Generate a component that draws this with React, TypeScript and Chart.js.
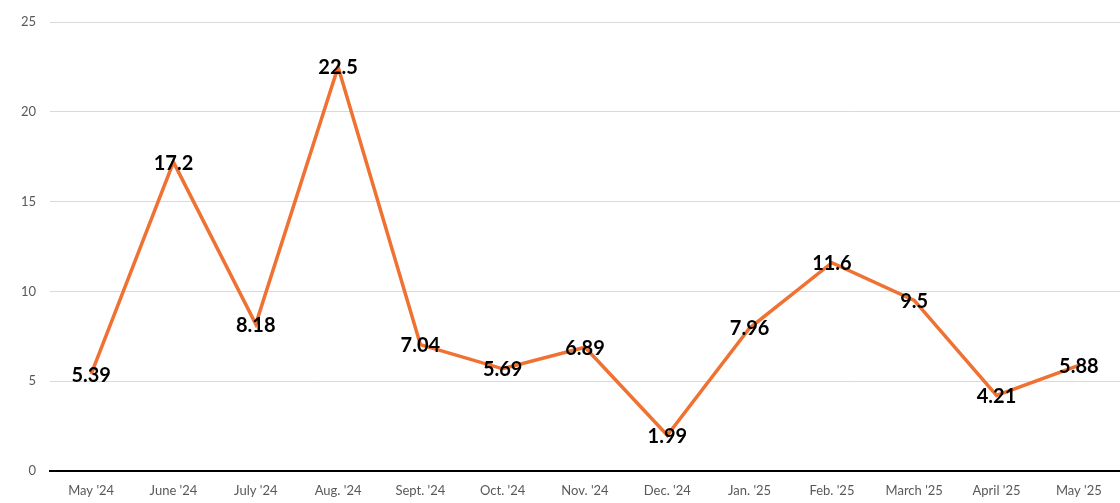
import React, { useEffect, useRef } from 'react';
import { Chart, registerables } from 'chart.js';

Chart.register(...registerables);

const months = [
  "May '24", "June '24", "July '24", "Aug. '24", "Sept. '24", "Oct. '24", "Nov. '24",
  "Dec. '24", "Jan. '25", "Feb. '25", "March '25", "April '25", "May '25",
];
const values = [5.39, 17.2, 8.18, 22.5, 7.04, 5.69, 6.89, 1.99, 7.96, 11.6, 9.5, 4.21, 5.88];
const valueLabels = ['5.39', '17.2', '8.18', '22.5', '7.04', '5.69', '6.89', '1.99', '7.96', '11.6', '9.5', '4.21', '5.88'];

// Draw value labels centred on each point
const pointLabels = {
  id: 'pointLabels',
  afterDatasetsDraw(chart: Chart) {
    const ctx = chart.ctx;
    const meta = chart.getDatasetMeta(0);
    ctx.save();
    ctx.font = 'bold 20px Lato';
    ctx.fillStyle = '#000000';
    ctx.textAlign = 'center';
    ctx.textBaseline = 'middle';
    meta.data.forEach((pt, i) => {
      ctx.fillText(valueLabels[i], pt.x, pt.y + 1);
    });
    ctx.restore();
  },
};

const App: React.FC = () => {
  const chartRef = useRef<HTMLCanvasElement>(null);

  useEffect(() => {
    if (!chartRef.current) return;
    const chart = new Chart(chartRef.current, {
      type: 'line',
      data: {
        labels: months,
        datasets: [{
          data: values,
          borderColor: '#F07232',
          borderWidth: 3.5,
          pointRadius: 0,
          tension: 0,
          fill: false,
        }],
      },
      options: {
        responsive: true,
        maintainAspectRatio: false,
        animation: false,
        layout: { padding: { top: 22, left: 0, right: 0, bottom: 0 } },
        plugins: {
          legend: { display: false },
          tooltip: { enabled: false },
        },
        scales: {
          x: {
            offset: true,
            grid: { display: false },
            border: { color: '#000000', width: 2 },
            ticks: {
              color: '#595959',
              font: { family: 'Lato', size: 13 },
              padding: 4,
              maxRotation: 0,
              autoSkip: false,
            },
            afterFit: (scale: any) => { scale.height = 32; },
          },
          y: {
            min: 0,
            max: 25,
            ticks: {
              stepSize: 5,
              color: '#595959',
              font: { family: 'Lato', size: 13 },
              padding: 14,
            },
            grid: {
              color: (c: any) => (c.tick && c.tick.value === 0 ? 'rgba(0,0,0,0)' : '#D9D9D9'),
              lineWidth: 1,
              drawTicks: false,
            },
            border: { display: false },
            afterFit: (scale: any) => { scale.width = 50; },
          },
        },
      },
      plugins: [pointLabels],
    });
    return () => chart.destroy();
  }, []);

  return (
    <div style={{ position: 'fixed', left: 0, top: 0, width: 1120, height: 503, background: '#fff' }}>
      <canvas ref={chartRef} />
    </div>
  );
};

export default App;
